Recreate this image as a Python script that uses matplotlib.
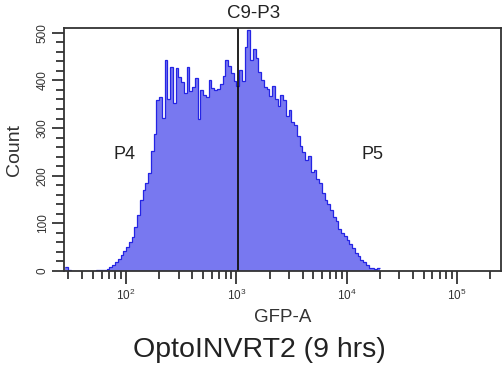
import numpy as np
import matplotlib
matplotlib.use("Agg")
import matplotlib.pyplot as plt
from matplotlib.ticker import MultipleLocator, LogLocator, NullFormatter
import matplotlib.transforms as mtransforms

plt.rcParams['font.family'] = ['Liberation Sans', 'DejaVu Sans']

# Histogram channels: log10 of first bin edge and channel width (decades)
log_start = 1.45
log_step = 0.025
counts = [8, 2, 0, 0, 0, 0, 0, 0, 0, 0,
          1, 2, 2, 3, 3, 5, 8, 13, 19, 26,
          33, 42, 50, 60, 72, 92, 118, 150, 170, 185,
          205, 252, 288, 358, 366, 322, 443, 362, 428, 352,
          426, 408, 396, 373, 428, 378, 387, 405, 318, 380,
          370, 366, 401, 384, 380, 383, 392, 410, 443, 430,
          416, 398, 388, 422, 398, 471, 506, 443, 465, 448,
          418, 401, 387, 382, 368, 388, 362, 346, 370, 358,
          326, 338, 312, 306, 283, 263, 249, 233, 242, 207,
          212, 194, 184, 164, 150, 140, 128, 113, 105, 88,
          80, 74, 66, 56, 49, 38, 31, 24, 18, 12,
          7, 6, 5, 6]

gate_x = 1035
gate_label = "C9-P3"
gate_label_x = 1445
region_labels = ["P4", "P5"]
region_x = [96, 17300]
region_y = [244, 244]
xlabel = "GFP-A"
ylabel = "Count"
title = "OptoINVRT2 (9 hrs)"

edges = 10 ** (log_start + log_step * np.arange(len(counts) + 1))

fig = plt.figure(figsize=(5.03, 3.70), dpi=100)
ax = fig.add_axes([64/503, 1 - 271/370, 437/503, 243/370])

fill_col = '#7878F0'
edge_col = '#2424E4'
ax.stairs(counts, edges, fill=True, color=fill_col, baseline=0)
ax.stairs(counts, edges, color=edge_col, linewidth=0.9, baseline=None)

ax.set_xscale('log')
ax.set_xlim(27.4, 2.51e5)
ax.set_ylim(0, 510)

ax.axvline(gate_x, color='#111111', linewidth=1.3)
trans = mtransforms.blended_transform_factory(ax.transData, ax.transAxes)
ax.text(gate_label_x, 1.058, gate_label, transform=trans, ha='center', va='center',
        fontsize=13.5, color='#222222')
for lab, xx, yy in zip(region_labels, region_x, region_y):
    ax.text(xx, yy, lab, ha='center', va='center', fontsize=13, color='#222222')

ax.xaxis.set_major_locator(LogLocator(base=10, numticks=10))
ax.xaxis.set_minor_locator(LogLocator(base=10, subs=np.arange(2, 10), numticks=20))
ax.xaxis.set_minor_formatter(NullFormatter())
ax.yaxis.set_major_locator(MultipleLocator(100))
ax.yaxis.set_minor_locator(MultipleLocator(20))

ax.tick_params(axis='both', which='major', length=9, width=1.2, color='#222222',
               labelsize=8.5, labelcolor='#333333', direction='out')
ax.tick_params(axis='both', which='minor', length=6, width=1.2, color='#222222',
               direction='out')
ax.tick_params(axis='x', which='major', pad=3)
ax.tick_params(axis='y', which='major', pad=2)
for lab in ax.get_yticklabels():
    lab.set_rotation(90)
    lab.set_va('center')

for sp in ax.spines.values():
    sp.set_color('#333333')
    sp.set_linewidth(1.3)

ax.set_xlabel(xlabel, fontsize=13.5, color='#333333')
ax.xaxis.set_label_coords(0.5, -0.155)
ax.set_ylabel(ylabel, fontsize=14, color='#333333')
ax.yaxis.set_label_coords(-0.093, 0.5)

fig.text(259/503, 1 - 350/370, title, ha='center', va='center', fontsize=20.5, color='#222222')

fig.savefig('out.png', dpi=100)
